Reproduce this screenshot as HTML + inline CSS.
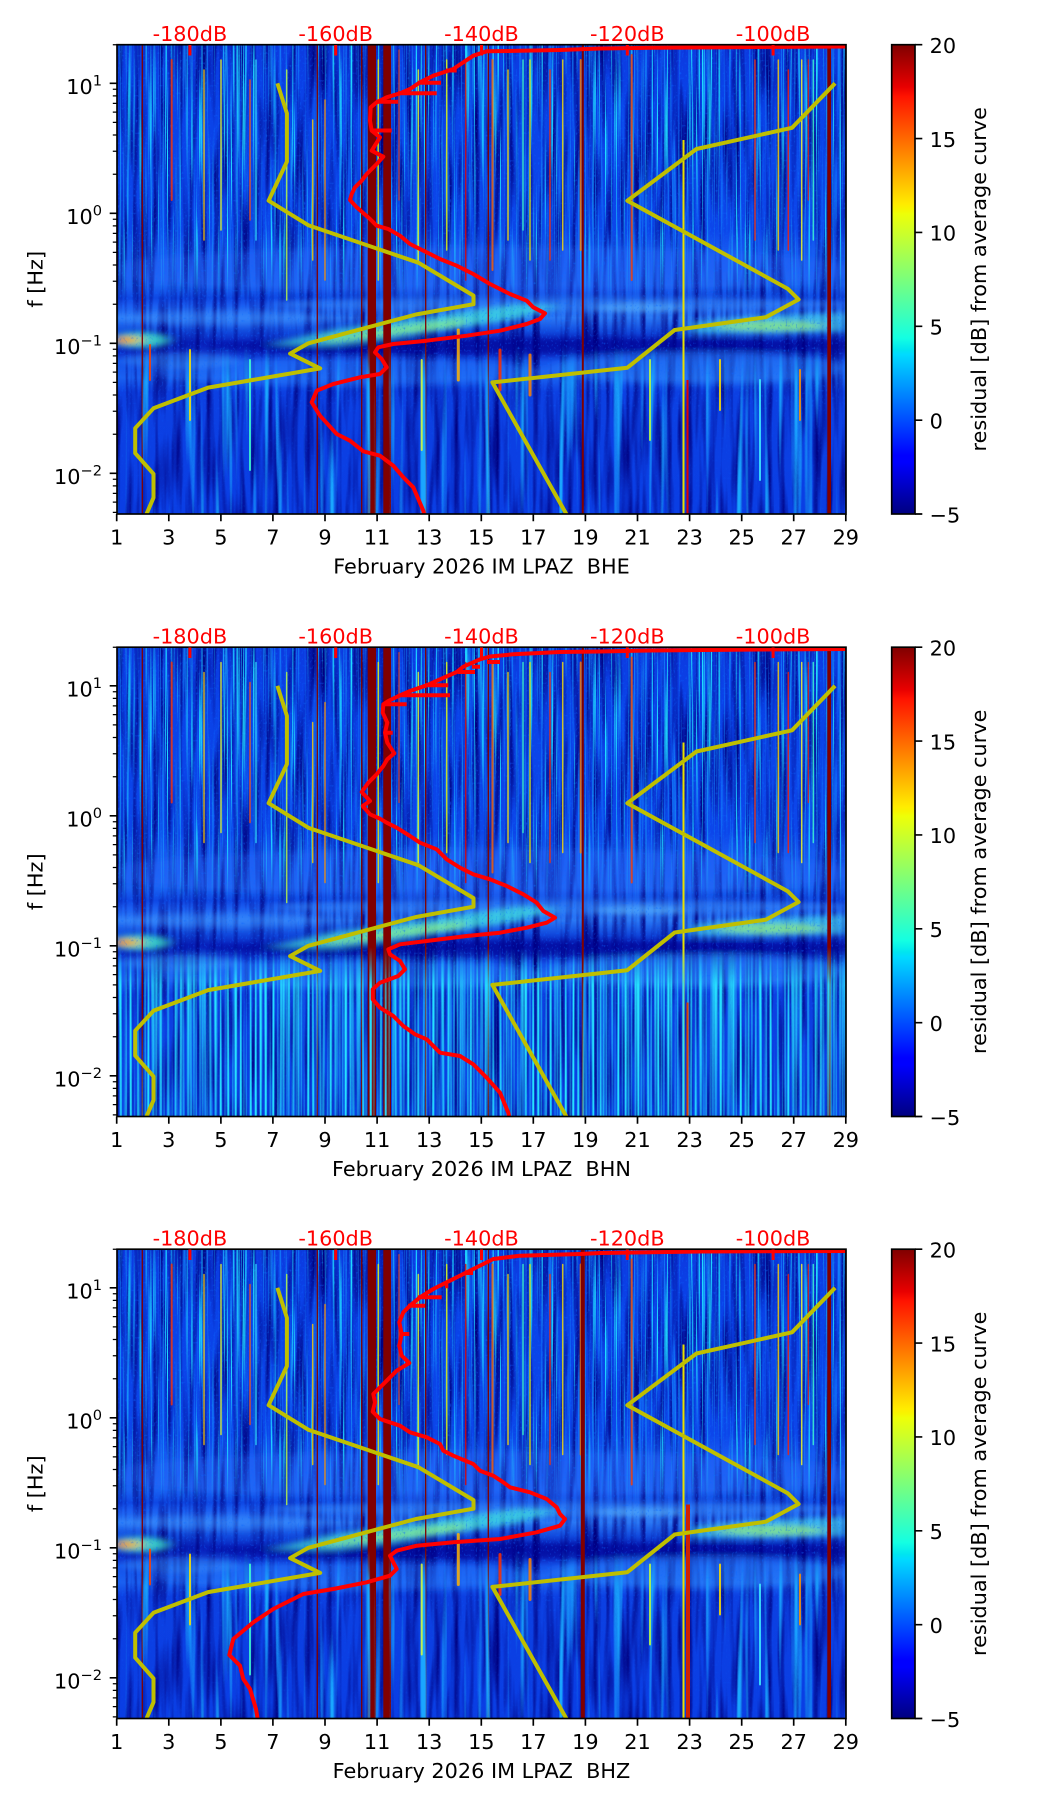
<!DOCTYPE html>
<html><head><meta charset="utf-8"><style>
html,body{margin:0;padding:0;background:#fff;overflow:hidden;}
svg{display:block;}
text{font-family:"DejaVu Sans","Liberation Sans",sans-serif;font-size:20.8px;fill:#000;}
</style></head><body>
<svg width="1052" height="1806" viewBox="0 0 1052 1806" xmlns="http://www.w3.org/2000/svg" xmlns:xlink="http://www.w3.org/1999/xlink">
<defs>
 <linearGradient id="jet" x1="0" y1="0" x2="0" y2="1">
  <stop offset="0" stop-color="#800000"/><stop offset="0.09" stop-color="#e80000"/><stop offset="0.11" stop-color="#ff1300"/>
  <stop offset="0.34" stop-color="#ffec00"/><stop offset="0.35" stop-color="#f7f500"/><stop offset="0.36" stop-color="#eeff08"/>
  <stop offset="0.625" stop-color="#14ffe2"/><stop offset="0.65" stop-color="#00e5f0"/><stop offset="0.66" stop-color="#00dbff"/>
  <stop offset="0.875" stop-color="#0000ff"/><stop offset="0.89" stop-color="#0000ff"/><stop offset="1" stop-color="#000080"/>
 </linearGradient>
 <linearGradient id="gBase" gradientUnits="userSpaceOnUse" x1="0" y1="44.7" x2="0" y2="514">
  <stop offset="0" stop-color="#0c3ae0"/><stop offset="0.118" stop-color="#0a42e8"/><stop offset="0.395" stop-color="#0c46ea"/>
  <stop offset="0.437" stop-color="#1658f0"/><stop offset="0.512" stop-color="#1a62f2"/><stop offset="0.54" stop-color="#0e48e4"/>
  <stop offset="0.555" stop-color="#1a5cf0"/><stop offset="0.582" stop-color="#2a78f5"/><stop offset="0.612" stop-color="#1048dc"/>
  <stop offset="0.634" stop-color="#0824c0"/><stop offset="0.655" stop-color="#0a28c4"/><stop offset="0.676" stop-color="#1450e8"/>
  <stop offset="0.71" stop-color="#1a60f0"/><stop offset="0.74" stop-color="#0c40e2"/><stop offset="1" stop-color="#0a3ee4"/>
 </linearGradient>
 <linearGradient id="mgU" gradientUnits="userSpaceOnUse" x1="0" y1="44" x2="0" y2="514">
  <stop offset="0" stop-color="#fff"/><stop offset="0.406" stop-color="#fff"/><stop offset="0.544" stop-color="#fff" stop-opacity="0"/><stop offset="1" stop-color="#fff" stop-opacity="0"/>
 </linearGradient>
 <linearGradient id="mgS" gradientUnits="userSpaceOnUse" x1="0" y1="44" x2="0" y2="514">
  <stop offset="0" stop-color="#fff"/><stop offset="0.7" stop-color="#fff"/><stop offset="0.8" stop-color="#fff" stop-opacity="0.3"/><stop offset="1" stop-color="#fff" stop-opacity="0.3"/>
 </linearGradient>
 <linearGradient id="mgL" gradientUnits="userSpaceOnUse" x1="0" y1="44" x2="0" y2="514">
  <stop offset="0" stop-color="#fff" stop-opacity="0"/><stop offset="0.64" stop-color="#fff" stop-opacity="0"/><stop offset="0.72" stop-color="#fff"/><stop offset="1" stop-color="#fff"/>
 </linearGradient>
 <mask id="mU" maskUnits="userSpaceOnUse" x="117" y="44" width="729" height="470"><rect x="117" y="44" width="729" height="470" fill="url(#mgU)"/></mask>
 <mask id="mS" maskUnits="userSpaceOnUse" x="117" y="44" width="729" height="470"><rect x="117" y="44" width="729" height="470" fill="url(#mgS)"/></mask>
 <mask id="mL" maskUnits="userSpaceOnUse" x="117" y="44" width="729" height="470"><rect x="117" y="44" width="729" height="470" fill="url(#mgL)"/></mask>
 <clipPath id="cAx"><rect x="117" y="44.7" width="729" height="469.3"/></clipPath>
 <filter id="fU" filterUnits="userSpaceOnUse" x="117" y="44" width="729" height="470" color-interpolation-filters="sRGB">
  <feTurbulence type="fractalNoise" baseFrequency="0.55 0.005" numOctaves="2" seed="5"/>
  <feColorMatrix type="matrix" values="0 0 0 0 0.12  0 0 0 0 0.85  0 0 0 0 1  5.5 0 0 0 -3.2"/>
 </filter>
 <filter id="fU2" filterUnits="userSpaceOnUse" x="117" y="44" width="729" height="470" color-interpolation-filters="sRGB">
  <feTurbulence type="fractalNoise" baseFrequency="0.7 0.008" numOctaves="1" seed="31"/>
  <feColorMatrix type="matrix" values="0 0 0 0 0.08  0 0 0 0 0.55  0 0 0 0 1  4 0 0 0 -2.25"/>
 </filter>
 <filter id="fN" filterUnits="userSpaceOnUse" x="117" y="44" width="729" height="470" color-interpolation-filters="sRGB">
  <feTurbulence type="fractalNoise" baseFrequency="0.15 0.01" numOctaves="2" seed="9"/>
  <feColorMatrix type="matrix" values="0 0 0 0 0  0 0 0 0 0  0 0 0 0 0.5  2.4 0 0 0 -1.0"/>
 </filter>
 <filter id="fS" filterUnits="userSpaceOnUse" x="117" y="44" width="729" height="470" color-interpolation-filters="sRGB">
  <feTurbulence type="fractalNoise" baseFrequency="0.5 0.4" numOctaves="1" seed="2"/>
  <feColorMatrix type="matrix" values="0 0 0 0 0.05  0 0 0 0 0.4  0 0 0 0 1  4 0 0 0 -2.3"/>
 </filter>
 <filter id="fL" filterUnits="userSpaceOnUse" x="117" y="44" width="729" height="470" color-interpolation-filters="sRGB">
  <feTurbulence type="fractalNoise" baseFrequency="0.14 0.0035" numOctaves="2" seed="12"/>
  <feColorMatrix type="matrix" values="0 0 0 0 0.1  0 0 0 0 0.65  0 0 0 0 1  5 0 0 0 -2.9"/>
 </filter>
 <filter id="fL2" filterUnits="userSpaceOnUse" x="117" y="44" width="729" height="470" color-interpolation-filters="sRGB">
  <feTurbulence type="fractalNoise" baseFrequency="0.4 0.002" numOctaves="1" seed="21"/>
  <feColorMatrix type="matrix" values="0 0 0 0 0.15  0 0 0 0 0.88  0 0 0 0 1  4 0 0 0 -1.7"/>
 </filter>
 <filter id="fB" x="-20%" y="-60%" width="140%" height="220%"><feGaussianBlur stdDeviation="7 3"/></filter>

 <g id="spec">
  <g clip-path="url(#cAx)">
   <rect x="117" y="44.7" width="729" height="469.3" fill="url(#gBase)"/>
   <rect x="117" y="44" width="729" height="470" filter="url(#fN)"/>
   <g filter="url(#fB)">
    <ellipse cx="480" cy="270" rx="380" ry="24" fill="#2a70ff" opacity="0.25"/>
    <ellipse cx="540" cy="346" rx="330" ry="8" fill="#000090" opacity="0.55"/>
    <ellipse cx="560" cy="304" rx="290" ry="8" fill="#3d9cff" opacity="0.45"/>
    <ellipse cx="220" cy="318" rx="110" ry="7" fill="#3a90ff" opacity="0.45"/>
    <ellipse cx="700" cy="368" rx="150" ry="16" fill="#2a8cff" opacity="0.45"/>
    <ellipse cx="350" cy="372" rx="200" ry="14" fill="#2a7cff" opacity="0.4"/>
    <ellipse cx="180" cy="360" rx="60" ry="8" fill="#40a0ff" opacity="0.4"/>
    <polygon points="270,344 330,330 420,318 520,304 560,306 520,318 420,334 330,346" fill="#3fe0e0" opacity="0.75"/>
    <polygon points="320,338 400,326 470,318 460,326 400,334 330,342" fill="#a0ff70" opacity="0.6"/>
    <polygon points="690,322 760,316 846,312 846,332 760,334 690,334" fill="#40d0f0" opacity="0.7"/>
    <ellipse cx="770" cy="326" rx="55" ry="5" fill="#a8ff60" opacity="0.6"/>
    <ellipse cx="640" cy="308" rx="45" ry="5" fill="#60c0ff" opacity="0.5"/>
    <ellipse cx="140" cy="340" rx="30" ry="8" fill="#40f0d0" opacity="0.8"/>
    <ellipse cx="128" cy="340" rx="14" ry="4" fill="#ffc000" opacity="0.9"/>
    <ellipse cx="122" cy="340" rx="6" ry="3" fill="#ff3000"/>
   </g>
   <rect x="117" y="44" width="729" height="470" filter="url(#fS)" mask="url(#mS)" opacity="0.5"/>
   <rect x="117" y="44" width="729" height="470" filter="url(#fU2)" mask="url(#mU)"/>
   <rect x="117" y="44" width="729" height="470" filter="url(#fU)" mask="url(#mU)"/>
   <g stroke-linecap="round" opacity="0.8">
    <path d="M171.7 60V200" stroke="#ff3000" stroke-width="2"/>
    <path d="M204 70V240" stroke="#ffcc00" stroke-width="1.5"/>
    <path d="M221 60V230" stroke="#f0ff20" stroke-width="1.5"/>
    <path d="M250 80V220" stroke="#ff5000" stroke-width="1.5"/>
    <path d="M256 60V240" stroke="#30e0ff" stroke-width="1.5"/>
    <path d="M286.7 70V300" stroke="#c0ff40" stroke-width="1.5"/>
    <path d="M312.7 120V260" stroke="#ffd000" stroke-width="1.5"/>
    <path d="M325 100V280" stroke="#ff9000" stroke-width="1.5"/>
    <path d="M378.3 60V280" stroke="#f0f000" stroke-width="1.5"/>
    <path d="M399 50V200" stroke="#ff4000" stroke-width="1.2"/>
    <path d="M418.3 70V260" stroke="#e8ff20" stroke-width="1.5"/>
    <path d="M446.7 60V250" stroke="#f0ff00" stroke-width="1.5"/>
    <path d="M465.7 60V280" stroke="#e00000" stroke-width="1.5"/>
    <path d="M492.5 60V270" stroke="#ff6000" stroke-width="2"/>
    <path d="M508 70V240" stroke="#ffe000" stroke-width="1.5"/>
    <path d="M523 60V230" stroke="#40ffc0" stroke-width="1.5"/>
    <path d="M530 60V260" stroke="#f0f000" stroke-width="1.5"/>
    <path d="M550 70V260" stroke="#ff3000" stroke-width="1.5"/>
    <path d="M562.7 60V250" stroke="#ffe000" stroke-width="1.5"/>
    <path d="M580.7 60V250" stroke="#ff8000" stroke-width="2"/>
    <path d="M631.7 55V280" stroke="#ff4000" stroke-width="2"/>
    <path d="M755 60V240" stroke="#ff3000" stroke-width="1.5"/>
    <path d="M778.3 60V250" stroke="#ffd000" stroke-width="1.5"/>
    <path d="M788.3 70V250" stroke="#ff2000" stroke-width="1.5"/>
    <path d="M801.7 60V260" stroke="#ffff20" stroke-width="1.5"/>
    <path d="M808.3 60V200" stroke="#ff2000" stroke-width="1.2"/>
    <path d="M813.3 60V240" stroke="#40ffd0" stroke-width="1.5"/>
   </g>
   <path d="M142.3 44V514M317.3 44V514M361.7 44V514M425.7 44V514M488.3 44V514" stroke="#800000" stroke-width="1.3"/>
   <path d="M582.8 44V514" stroke="#800000" stroke-width="2"/>
   <path d="M683.5 140V514" stroke="#e8e000" stroke-width="2"/>
   <rect x="367.7" y="44" width="8.3" height="470" fill="#800000"/>
   <rect x="383.3" y="44" width="7.7" height="470" fill="#800000"/>
   <rect x="827.3" y="44" width="3.7" height="470" fill="#800000"/>
  </g>
 </g>

 <g id="low13">
  <g clip-path="url(#cAx)">
   <rect x="117" y="44" width="729" height="470" filter="url(#fL)" mask="url(#mL)"/>
   <g stroke-linecap="round" opacity="0.85">
    <path d="M458.3 330V380" stroke="#ffb000" stroke-width="3"/>
    <path d="M500 350V390" stroke="#ff3000" stroke-width="3"/>
    <path d="M530 355V395" stroke="#ff8000" stroke-width="3"/>
    <path d="M421.7 360V450" stroke="#e0ff30" stroke-width="2"/>
    <path d="M190 350V420" stroke="#ffe000" stroke-width="2"/>
    <path d="M250 360V470" stroke="#40ffd0" stroke-width="2"/>
    <path d="M150 345V380" stroke="#ff4000" stroke-width="2"/>
    <path d="M650 360V440" stroke="#c0ff40" stroke-width="2"/>
    <path d="M720 360V410" stroke="#ffe000" stroke-width="2"/>
    <path d="M760 380V480" stroke="#40f0ff" stroke-width="2"/>
    <path d="M800 370V420" stroke="#ff9000" stroke-width="2"/>
   </g>
   <path d="M687.5 380V514" stroke="#e00000" stroke-width="2"/>
  </g>
 </g>

 <g id="frame">
  <rect x="117" y="44.7" width="729" height="469.3" fill="none" stroke="#000" stroke-width="1.67"/>
  <path d="M116.7 514v7.3M168.8 514v7.3M220.9 514v7.3M272.9 514v7.3M325 514v7.3M377.1 514v7.3M429.2 514v7.3M481.3 514v7.3M533.3 514v7.3M585.4 514v7.3M637.5 514v7.3M689.6 514v7.3M741.7 514v7.3M793.7 514v7.3M845.8 514v7.3" stroke="#000" stroke-width="1.67"/>
  <g text-anchor="middle">
   <text x="116.7" y="544.4">1</text><text x="168.8" y="544.4">3</text><text x="220.9" y="544.4">5</text><text x="272.9" y="544.4">7</text>
   <text x="325" y="544.4">9</text><text x="377.1" y="544.4">11</text><text x="429.2" y="544.4">13</text><text x="481.3" y="544.4">15</text>
   <text x="533.3" y="544.4">17</text><text x="585.4" y="544.4">19</text><text x="637.5" y="544.4">21</text><text x="689.6" y="544.4">23</text>
   <text x="741.7" y="544.4">25</text><text x="793.7" y="544.4">27</text><text x="845.8" y="544.4">29</text>
  </g>
  <path d="M109.7 83.3H117M109.7 213.3H117M109.7 343.3H117M109.7 473.3H117" stroke="#000" stroke-width="1.67"/>
  <path d="M112.8 44.7H117M112.8 89.2H117M112.8 95.9H117M112.8 103.4H117M112.8 112.1H117M112.8 122.4H117M112.8 135H117M112.8 151.3H117M112.8 174.2H117M112.8 219.2H117M112.8 225.9H117M112.8 233.4H117M112.8 242.1H117M112.8 252.4H117M112.8 265H117M112.8 281.3H117M112.8 304.2H117M112.8 349.2H117M112.8 355.9H117M112.8 363.4H117M112.8 372.1H117M112.8 382.4H117M112.8 395H117M112.8 411.3H117M112.8 434.2H117M112.8 479.2H117M112.8 485.9H117M112.8 493.4H117M112.8 502.1H117M112.8 512.4H117" stroke="#000" stroke-width="1.25"/>
  <g text-anchor="end">
   <text x="102" y="93.8">10<tspan dy="-8.5" font-size="14.6">1</tspan></text>
   <text x="102" y="223.8">10<tspan dy="-8.5" font-size="14.6">0</tspan></text>
   <text x="102" y="353.8">10<tspan dy="-8.5" font-size="14.6">−1</tspan></text>
   <text x="102" y="483.8">10<tspan dy="-8.5" font-size="14.6">−2</tspan></text>
  </g>
  <text transform="translate(42.5,279.3) rotate(-90)" text-anchor="middle">f [Hz]</text>
  <g text-anchor="middle">
   <text x="189.9" y="41" style="fill:#ff0000">-180dB</text>
   <text x="335.7" y="41" style="fill:#ff0000">-160dB</text>
   <text x="481.5" y="41" style="fill:#ff0000">-140dB</text>
   <text x="627.3" y="41" style="fill:#ff0000">-120dB</text>
   <text x="773.1" y="41" style="fill:#ff0000">-100dB</text>
  </g>
  <path d="M189.9 45v10.5M335.7 45v10.5M481.5 45v10.5M627.3 45v10.5M773.1 45v10.5" stroke="#ff0000" stroke-width="3"/>
  <rect x="891.7" y="44.7" width="23.3" height="469.3" fill="url(#jet)" stroke="#000" stroke-width="1.67"/>
  <path d="M915 44.7h7.3M915 138.6h7.3M915 232.4h7.3M915 326.3h7.3M915 420.2h7.3M915 514h7.3" stroke="#000" stroke-width="1.67"/>
  <text x="929.6" y="53">20</text><text x="929.6" y="146.9">15</text><text x="929.6" y="240.7">10</text>
  <text x="929.6" y="334.6">5</text><text x="929.6" y="428.5">0</text><text x="929.6" y="522.3">−5</text>
  <text transform="translate(986,279.3) rotate(-90)" text-anchor="middle">residual [dB] from average curve</text>
 </g>

 <g id="models" fill="none" stroke="#bfbf00" stroke-width="4" stroke-linejoin="round">
  <g clip-path="url(#cAx)">
   <polyline points="277.4,83.3 286.9,113.3 286.9,161.6 268.6,200.7 308.7,225.4 418.4,262.7 473.5,295.6 473.5,304.2 415.9,314.5 308.4,343.3 290.1,353.6 320.2,368.4 208.1,387.6 153.5,408.3 135.2,428.2 135.2,453.2 153.5,473.9 153.5,497.7 135.2,540.4"/>
   <polyline points="835.1,83.3 792,127.8 696.5,149 627.3,200.7 787.7,288.7 798.6,299.5 765.8,317.2 674.7,330 627.3,367.7 492.4,382.4 583.6,544.8"/>
  </g>
 </g>
</defs>

<rect width="1052" height="1806" fill="#fff"/>

<!-- Panel 1 -->
<g>
 <use xlink:href="#spec"/>
 <use xlink:href="#low13"/>
 <use xlink:href="#models"/>
 <g clip-path="url(#cAx)" fill="none" stroke="#ff0000" stroke-width="4" stroke-linejoin="round">
  <polyline points="850,46.5 760,47 650,47.8 600,48.5 560,50 520,50.8 486.7,51.3 473.3,55.7 463.3,62.3 453.3,69 443,72.5 433.3,75.7 420,82.3 410,89 400,93.3 386.7,97.3 376.7,102.3 370.7,107.3 370,120.7 371.7,130.7 380,137.3 371.7,150.7 383.3,156.7 376.7,164 366.7,174 361.7,180.7 355,187.3 351.7,194 350,200 356.7,207.3 370,219 376.7,225.7 388.3,229 400,235.7 410,244 426.7,252.3 440,259 456.7,265.7 473.3,274 490,284 510,294 526.7,300.7 533.3,307.3 545,313.3 540,319 526.7,324 500,330.7 466.7,335.7 426.7,340.7 393.3,344 378.3,347.3 375,352.3 381.7,359 386.7,367.3 380,374 360,377.3 333.3,384 316.7,390.7 311.7,402.3 320,415.7 336.7,434 350,440.7 363.3,451.3 380,455.7 393.3,465.7 403.3,477.3 413.3,487.3 423.3,510.7 425,518"/>
  <path d="M446 70.5H456.7M418 82.7H441M398 93.3H436.7M376 101.7H398M372 130.5H391.7"/>
 </g>
 <use xlink:href="#frame"/>
 <text x="481.5" y="573.5" text-anchor="middle">February 2026 IM LPAZ&#160; BHE</text>
</g>

<!-- Panel 2 -->
<g transform="translate(0,602.5)">
 <use xlink:href="#spec"/>
 <g clip-path="url(#cAx)">
  <rect x="117" y="44" width="729" height="470" filter="url(#fL2)" mask="url(#mL)"/>
  <path d="M687.5 400V514" stroke="#e04000" stroke-width="2"/>
 </g>
 <use xlink:href="#models"/>
 <g clip-path="url(#cAx)" fill="none" stroke="#ff0000" stroke-width="4" stroke-linejoin="round">
  <polyline points="850,46.5 760,47 650,48 600,49 560,49.5 513.3,51.8 490,54 480,56.8 463.3,64.2 456.7,69.5 440,76.8 426.7,82.8 410,88.5 400,92.8 388.3,98.5 383.3,101.8 382.7,110.2 387.3,120.2 385,130.2 387.3,140.2 394.3,150.8 387.3,156.8 383.3,163.5 376.7,171.8 368.3,180.2 361.7,189.5 370,198.5 362.7,203.5 370,211.8 380,216.2 386.7,220.2 396.7,225.2 410,233.5 420,240.2 436.7,246.8 446.7,256.8 460,265.2 473.3,271.8 490,276.8 506.7,283.5 523.3,291.8 536.7,300.2 543.3,308.5 555,315.2 546.7,320.2 526.7,325.2 500,330.2 466.7,333.5 426.7,338.5 400,341.8 388.3,346.8 390,351.8 400,358.5 405,366.8 398.3,373.5 380,380.2 372.7,386.8 372.7,396.8 380,405.2 393.3,413.5 403.3,423.5 415,431.8 426.7,436.8 440,450.2 460,453.5 473.3,461.8 486.7,475.2 500,490.2 508.3,510.2 510,518"/>
  <path d="M487 59.5H500M472 64.2H480M458 69.5H475M425 82.8H448.3M400 92.8H450M383 101.8H406.7M385 130.2H392.7"/>
 </g>
 <use xlink:href="#frame"/>
 <text x="481.5" y="573.5" text-anchor="middle">February 2026 IM LPAZ&#160; BHN</text>
</g>

<!-- Panel 3 -->
<g transform="translate(0,1204.5)">
 <use xlink:href="#spec"/>
 <use xlink:href="#low13"/>
 <g clip-path="url(#cAx)">
  <path d="M582.8 44V514" stroke="#800000" stroke-width="4"/>
  <path d="M688 300V514" stroke="#d02000" stroke-width="4"/>
 </g>
 <use xlink:href="#models"/>
 <g clip-path="url(#cAx)" fill="none" stroke="#ff0000" stroke-width="4" stroke-linejoin="round">
  <polyline points="850,46.5 700,47 600,48.5 580,49.5 520,51.2 493.3,54.5 473.3,64.5 460,71.2 446.7,77.8 433.3,84.5 420,92.8 410,101.2 403.3,107.8 399.3,117.8 401.7,129.5 399.3,141.2 401.7,151.2 409.3,158.5 396.7,166.2 386.7,176.2 381.7,181.2 373.3,189.5 375,197.8 372.7,207.2 380,214.5 400,221.2 410,227.8 426.7,232.8 440,239.5 443.3,246.2 453.3,251.2 473.3,259.5 480,266.2 493.3,271.2 503.3,277.8 510,282.8 530,287.8 546.7,294.5 556.7,302.8 560,309.5 565,314.5 560,321.2 536.7,327.8 500,334.5 453.3,337.8 416.7,341.2 396.7,346.2 390,351.2 393.3,357.8 396.7,364.5 390,371.2 366.7,377.8 333.3,384.5 303.3,389.5 286.7,397.8 273.3,404.5 253.3,417.8 233.3,434.5 229.3,450.5 240,461.2 243.3,474.5 250,484.5 256,504.5 258.3,518"/>
  <path d="M465 68.5H473M445 81.8H448.3M418 92.8H441.7M408 101.2H425M400 129.5H409.3"/>
 </g>
 <use xlink:href="#frame"/>
 <text x="481.5" y="573.5" text-anchor="middle">February 2026 IM LPAZ&#160; BHZ</text>
</g>
</svg>
</body></html>
